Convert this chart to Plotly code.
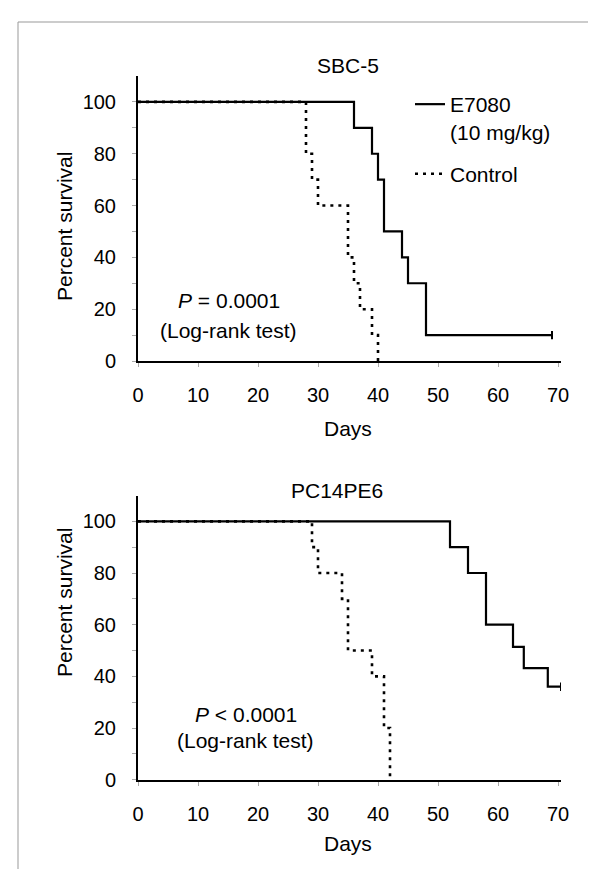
import plotly.graph_objects as go

# ---------------- data ----------------
# SBC-5
sbc_e7080_days = [0, 36, 39, 40, 41, 44, 45, 48, 69]
sbc_e7080_surv = [100, 90, 80, 70, 50, 40, 30, 10, 10]
sbc_e7080_censor_day = [69]
sbc_e7080_censor_surv = [10]
sbc_ctrl_days = [0, 28, 29, 30, 35, 36, 37, 39, 40]
sbc_ctrl_surv = [100, 80, 70, 60, 40, 30, 20, 10, 0]

# PC14PE6
pc_e7080_days = [0, 52, 55, 58, 62.5, 64.3, 68.3, 70.5]
pc_e7080_surv = [100, 90, 80, 60, 51.4, 43.2, 36, 36]
pc_e7080_censor_day = [70.5]
pc_e7080_censor_surv = [36]
pc_ctrl_days = [0, 29, 30, 34, 35, 39, 41, 42]
pc_ctrl_surv = [100, 90, 80, 70, 50, 40, 20, 0]

x_tickvals = [0, 10, 20, 30, 40, 50, 60, 70]
x_ticktext = ["0", "10", "20", "30", "40", "50", "60", "70"]
y_tickvals = [0, 10, 20, 30, 40, 50, 60, 70, 80, 90, 100]
y_ticktext = ["0", "", "20", "", "40", "", "60", "", "80", "", "100"]

titles = ["SBC-5", "PC14PE6"]
label_e7080 = "E7080<br>(10 mg/kg)"
label_ctrl = "Control"
p_texts = ["<i>P</i> = 0.0001", "<i>P</i> &lt; 0.0001"]

# ---------------- layout helpers ----------------
W, H = 596, 869
FONT = "Liberation Sans, Arial, sans-serif"


def px(x):
    return x / W


def py(y):
    return 1 - y / H


fig = go.Figure()

panels = [
    dict(e_d=sbc_e7080_days, e_s=sbc_e7080_surv, c_d=sbc_ctrl_days, c_s=sbc_ctrl_surv,
         cen_d=sbc_e7080_censor_day, cen_s=sbc_e7080_censor_surv, xa="x", ya="y", legend=True),
    dict(e_d=pc_e7080_days, e_s=pc_e7080_surv, c_d=pc_ctrl_days, c_s=pc_ctrl_surv,
         cen_d=pc_e7080_censor_day, cen_s=pc_e7080_censor_surv, xa="x2", ya="y2", legend=False),
]

for p in panels:
    fig.add_trace(go.Scatter(
        x=p["c_d"], y=p["c_s"], mode="lines", line_shape="hv",
        line=dict(color="black", width=2.6, dash="3px,5px"),
        name=label_ctrl, showlegend=p["legend"], legendgroup="ctrl", legendrank=2,
        xaxis=p["xa"], yaxis=p["ya"]))
    fig.add_trace(go.Scatter(
        x=p["e_d"], y=p["e_s"], mode="lines", line_shape="hv",
        line=dict(color="black", width=2.2),
        name=label_e7080, showlegend=p["legend"], legendgroup="e7080", legendrank=1,
        xaxis=p["xa"], yaxis=p["ya"]))
    fig.add_trace(go.Scatter(
        x=p["cen_d"], y=p["cen_s"], mode="markers",
        marker=dict(symbol="line-ns", size=6, line=dict(color="black", width=2)),
        showlegend=False, xaxis=p["xa"], yaxis=p["ya"]))

xdom = [px(130), px(130 + 70.5 * 6)]
ydom_top = [py(353), py(68)]
ydom_bot = [py(771.7), py(487.5)]

common_x = dict(range=[0, 70.5], tickvals=x_tickvals, ticktext=x_ticktext,
                showline=True, linecolor="black", linewidth=2, showgrid=False,
                zeroline=False, ticks="outside", ticklen=4, tickcolor="#aaaaaa",
                tickwidth=1, tickfont=dict(size=20, color="black", family=FONT),
                ticklabelstandoff=11, automargin=False, fixedrange=True)
common_y = dict(range=[0, 110], tickvals=y_tickvals, ticktext=y_ticktext,
                showline=True, linecolor="black", linewidth=2, showgrid=False,
                zeroline=False, ticks="outside", ticklen=4, tickcolor="#aaaaaa",
                tickwidth=1, tickfont=dict(size=20, color="black", family=FONT),
                ticklabelstandoff=12, automargin=False, fixedrange=True)

fig.update_layout(
    width=W, height=H,
    margin=dict(l=0, r=0, t=0, b=0),
    paper_bgcolor="white", plot_bgcolor="white",
    font=dict(family=FONT, size=21, color="black"),
    xaxis=dict(domain=xdom, anchor="y", **common_x),
    yaxis=dict(domain=ydom_top, anchor="x", **common_y),
    xaxis2=dict(domain=xdom, anchor="y2", **common_x),
    yaxis2=dict(domain=ydom_bot, anchor="x2", **common_y),
    showlegend=True,
    legend=dict(x=px(402), y=py(76), xanchor="left", yanchor="top",
                bgcolor="rgba(0,0,0,0)", font=dict(size=21, family=FONT),
                traceorder="grouped", tracegroupgap=12, valign="top",
                itemwidth=30),
)

ann = []
# titles
ann.append(dict(text=titles[0], x=px(340), y=py(58)))
ann.append(dict(text=titles[1], x=px(329), y=py(482)))
# axis titles
for yc in (219, 595):
    ann.append(dict(text="Percent survival", x=px(56), y=py(yc), textangle=-90))
for yc in (420, 835):
    ann.append(dict(text="Days", x=px(340), y=py(yc)))
# p-values
ann.append(dict(text=p_texts[0], x=px(221), y=py(292)))
ann.append(dict(text="(Log-rank test)", x=px(220), y=py(322)))
ann.append(dict(text=p_texts[1], x=px(238), y=py(706)))
ann.append(dict(text="(Log-rank test)", x=px(237), y=py(732)))

fig.update_layout(annotations=[
    dict(xref="paper", yref="paper", showarrow=False, xanchor="center", yanchor="middle",
         font=dict(size=21, family=FONT, color="black"), **a) for a in ann
])

# figure frame (top and left edges visible)
fig.add_shape(type="line", xref="paper", yref="paper", x0=px(10), x1=1.0, y0=py(14), y1=py(14),
              line=dict(color="#999999", width=1))
fig.add_shape(type="line", xref="paper", yref="paper", x0=px(10), x1=px(10), y0=0, y1=py(14),
              line=dict(color="#999999", width=1))

fig.write_html("out.html")
